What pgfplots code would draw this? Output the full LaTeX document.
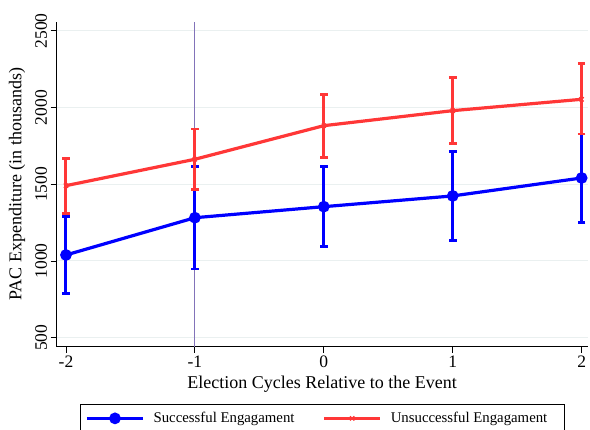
\documentclass[border=0pt]{standalone}
\usepackage{pgfplots}
\pgfplotsset{compat=1.18}
\usepackage{pgfplotstable}
\usepackage{fontspec}
\setmainfont{Liberation Serif}

\definecolor{sblue}{RGB}{0,0,255}
\definecolor{ured}{RGB}{255,55,55}
\definecolor{gridc}{RGB}{234,240,240}
\definecolor{vline}{RGB}{130,115,185}

% x, mean, upper and lower half-widths of the confidence interval
\pgfplotstableread{
x   y     ep   em
-2  1039  250  252
-1  1282  333  334
0   1354  261  261
1   1424  288  292
2   1541  287  291
}\successful
\pgfplotstableread{
x   y     ep   em
-2  1491  178  183
-1  1663  197  196
0   1882  205  206
1   1980  215  213
2   2054  235  226
}\unsuccessful

\begin{document}
\begin{tikzpicture}
\begin{axis}[
  at={(0,0)}, anchor=south west,
  scale only axis, width=531pt, height=325pt,
  xmin=-2.072, xmax=2.047, ymin=441, ymax=2560,
  axis x line*=bottom, axis y line*=left,
  axis line style={line width=0.8pt},
  tick align=outside, major tick length=6pt,
  tick style={line width=0.8pt, black},
  xtick={-2,-1,0,1,2}, ytick={500,1000,1500,2000,2500},
  yticklabel style={rotate=90, anchor=south},
  ymajorgrids, grid style={gridc, line width=1pt},
  /pgf/number format/assume math mode=true,
  /pgf/number format/.cd, 1000 sep={}, /pgfplots/.cd,
  ticklabel style={font=\fontsize{17.5}{19}\selectfont},
  label style={font=\fontsize{18}{20}\selectfont},
  xlabel={Election Cycles Relative to the Event},
  ylabel={PAC Expenditure (in thousands)},
  xlabel style={at={(axis description cs:0.5,0)}, anchor=center, yshift=-37.5pt},
  ylabel style={at={([xshift=-39.7pt]axis description cs:0,0.5)}, anchor=center},
  legend columns=2,
  legend style={at={(axis description cs:0,0)}, xshift=23.3pt, yshift=-57.3pt,
    anchor=north west,
    draw=black, line width=0.8pt, font=\fontsize{14.8}{16}\selectfont,
    inner xsep=5pt, inner ysep=6pt,
    /tikz/every odd column/.append style={column sep=7pt},
    /tikz/every even column/.append style={column sep=26pt}},
  legend image code/.code={\draw[mark repeat=2,mark phase=2,#1]
    plot coordinates {(0pt,0pt) (28pt,0pt) (56pt,0pt)};},
  error bars/error bar style={line width=3pt},
  error bars/error mark options={rotate=90, mark size=3.8pt, line width=2.6pt},
]
\addplot[vline, line width=1.2pt, forget plot] coordinates {(-1,441) (-1,2560)};
\addplot[sblue, line width=3.2pt, mark=*, mark size=4.2pt,
  error bars/.cd, y dir=both, y explicit]
  table[x=x, y=y, y error plus=ep, y error minus=em] {\successful};
\addlegendentry{Successful Engagament}
\addplot[ured, line width=3.2pt, mark=x, mark size=3pt, mark options={line width=1.2pt},
  error bars/.cd, y dir=both, y explicit]
  table[x=x, y=y, y error plus=ep, y error minus=em] {\unsuccessful};
\addlegendentry{Unsuccessful Engagament\rule{10pt}{0pt}}
\end{axis}
\pgfresetboundingbox
\path[use as bounding box] (-56.7pt,-83.3pt) rectangle (533.3pt,346.7pt);
\end{tikzpicture}
\end{document}
